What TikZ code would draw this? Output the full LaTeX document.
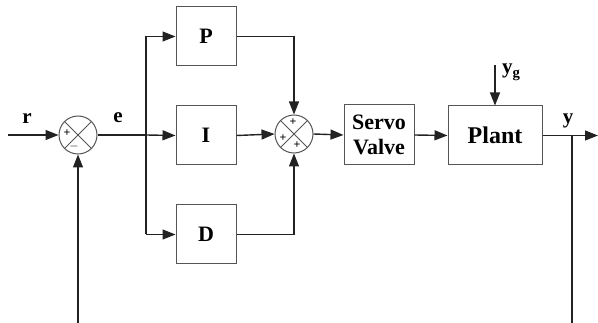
\documentclass[tikz,border=0pt]{standalone}
\usepackage{fontspec}
\setmainfont{Liberation Serif}
\usetikzlibrary{arrows.meta}
\definecolor{ln}{HTML}{222222}
\definecolor{bx}{HTML}{555555}
\tikzset{
  blk/.style={draw=bx, line width=1pt, fill=white, minimum width=60pt, minimum height=59pt, inner sep=0pt, font=\fontsize{22}{22}\selectfont\bfseries},
  sumc/.style={draw=bx, line width=1pt, circle, minimum size=38pt, inner sep=0pt},
  wire/.style={draw=ln, line width=1.4pt},
  arr/.style={wire, -{Triangle[length=13pt,width=10pt]}},
  lbl/.style={font=\fontsize{21}{21}\selectfont\bfseries, inner sep=0pt},
  sgn/.style={font=\fontsize{12}{12}\selectfont\bfseries, inner sep=0pt}
}
\begin{document}
\begin{tikzpicture}[x=1pt,y=-1pt]
\useasboundingbox (0,0) rectangle (598,323);
% blocks
\node[sumc] (s1) at (78,135) {};
\node[sumc] (s2) at (294,134) {};
\draw[bx, line width=0.8pt] (s1.north west) -- (s1.south east) (s1.north east) -- (s1.south west);
\draw[bx, line width=0.8pt] (s2.north west) -- (s2.south east) (s2.north east) -- (s2.south west);
\node[sgn] at (67,133) {+};
\node[sgn] at (74,147) {$-$};
\node[sgn] at (293,122) {+};
\node[sgn] at (283,138) {+};
\node[sgn] at (297,145) {+};
\node[blk] (P) at (206,36.5) {P};
\node[blk] (I) at (206,135.5) {I};
\node[blk] (D) at (206,234.5) {D};
\node[blk, minimum width=70pt, minimum height=60pt, align=center, font=\fontsize{22}{25}\selectfont\bfseries] (SV) at (379,135) {Servo\\Valve};
\node[blk, minimum width=94pt, minimum height=59pt, font=\fontsize{24}{24}\selectfont\bfseries] (PL) at (495,135.5) {Plant};
% coordinates
\coordinate (in) at (8,135);
\coordinate (br) at (146,135);
\coordinate (bP) at (146,36.5);
\coordinate (bD) at (146,234.5);
\coordinate (pc) at (294,36.5);
\coordinate (dc) at (294,234.5);
\coordinate (yg) at (495,65);
\coordinate (out) at (598,135.5);
\coordinate (ob) at (572,135.5);
\coordinate (fb1) at (572,323);
\coordinate (fb2) at (78,323);
% wires
\draw[arr] (in) -- (s1.west);
\draw[wire] (s1.east) -- (br);
\draw[wire] (bP) -- (bD);
\draw[arr] (bP) -- (P.west);
\draw[arr] (br) -- (I.west);
\draw[arr] (bD) -- (D.west);
\draw[arr] (P.east) -- (pc) -- (s2.north);
\draw[arr] (D.east) -- (dc) -- (s2.south);
\draw[arr] (I.east) -- (s2.west);
\draw[arr] (s2.east) -- (SV.west);
\draw[arr] (SV.east) -- (PL.west);
\draw[arr] (yg) -- (PL.north);
\draw[arr] (PL.east) -- (out);
\draw[wire] (ob) -- (fb1);
\draw[arr] (fb2) -- (s1.south);
% labels
\node[lbl] at (27,119) {r};
\node[lbl] at (118,118) {e};
\node[lbl] at (568,121) {y};
\node[lbl, anchor=base west] at (502,74) {y\textsubscript{g}};
\end{tikzpicture}
\end{document}
